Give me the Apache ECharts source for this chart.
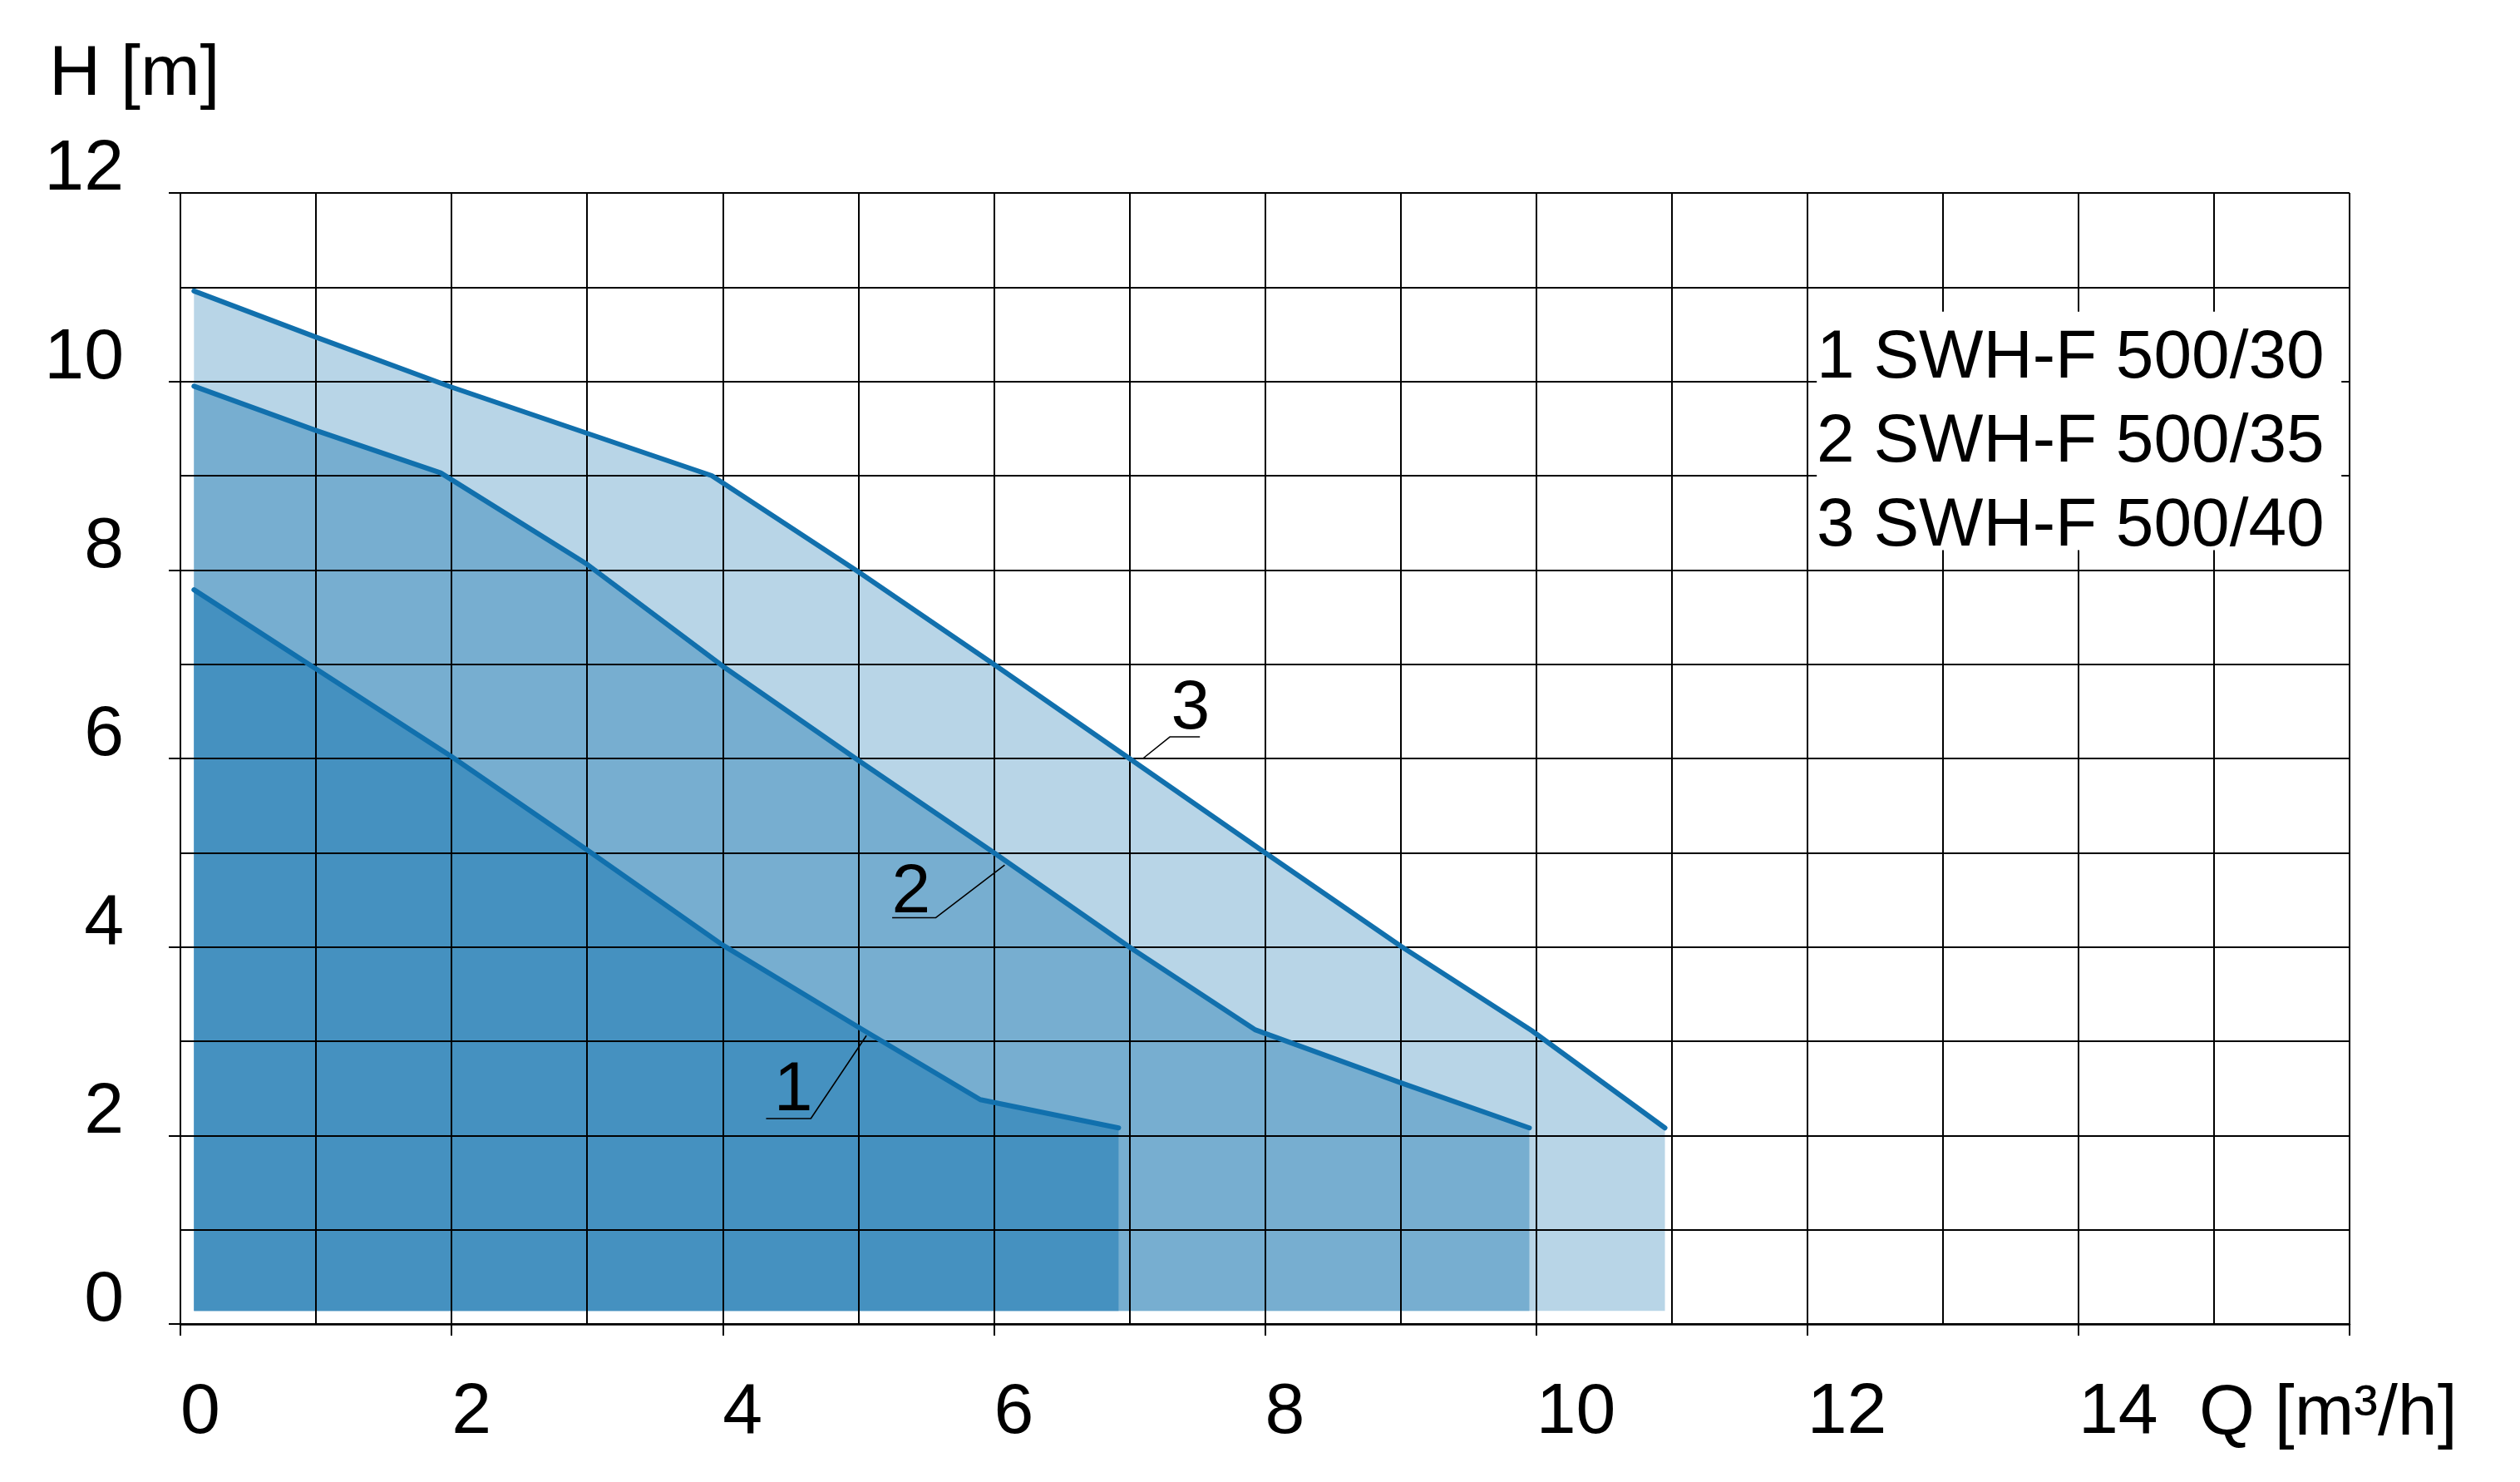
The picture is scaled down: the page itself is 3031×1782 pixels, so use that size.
<!DOCTYPE html>
<html>
<head>
<meta charset="utf-8">
<script src="https://cdn.jsdelivr.net/npm/echarts@6/dist/echarts.min.js"></script>
<style>
  html, body { margin: 0; padding: 0; background: #fff; }
  #chart { width: 3031px; height: 1782px; }
</style>
</head>
<body>
<div id="chart"></div>
<script>
// ---- data ----
const modelNames = ['1 SWH-F 500/30', '2 SWH-F 500/35', '3 SWH-F 500/40'];

const q1 = [0.1, 1, 2, 3, 4, 5, 5.9, 6.92];
const h1 = [7.79, 6.95, 6.02, 5.03, 4.02, 3.15, 2.38, 2.08];

const q2 = [0.1, 1, 1.92, 3, 4, 5, 6, 7, 7.93, 9, 9.95];
const h2 = [9.95, 9.48, 9.03, 8.06, 6.98, 5.98, 5.0, 4.0, 3.12, 2.56, 2.08];

const q3 = [0.1, 1, 2, 3, 3.92, 5, 6, 7, 8, 9, 9.97, 10.95];
const h3 = [10.96, 10.47, 9.94, 9.45, 9.0, 7.98, 7.0, 6.0, 5.0, 4.01, 3.11, 2.08];

const xTicks = [0, 2, 4, 6, 8, 10, 12, 14];
const yTicks = [0, 2, 4, 6, 8, 10, 12];

// curve number tags and their leader lines
const tagText = ['1', '2', '3'];
const tagQ = [4.52, 5.39, 7.45];
const tagH = [2.47, 4.57, 6.52];
const leader1 = [[4.32, 2.18], [4.65, 2.18], [5.06, 3.06]];
const leader2 = [[5.25, 4.31], [5.57, 4.31], [6.08, 4.87]];
const leader3 = [[7.52, 6.23], [7.30, 6.23], [7.10, 6.0]];

// area floor and legend panel extent (in data units)
const areaFloor = 0.14;
const legendPanel = [12.07, 15.94, 8.21, 10.74];

// ---- styling ----
const FONT = "'Liberation Sans', Arial, sans-serif";
const fills = ['#4591c0', '#77aed0', '#b8d5e7'];
const lineColor = '#1170ad';

const zip = (a, b) => a.map((v, i) => [v, b[i]]);
const curves = [zip(q1, h1), zip(q2, h2), zip(q3, h3)];

const chart = echarts.init(document.getElementById('chart'), null, { renderer: 'canvas' });

const gridLine = { show: true, lineStyle: { color: '#000', width: 2 } };

const series = [];
// filled areas (largest first so the smaller sit on top)
[2, 1, 0].forEach(i => {
  series.push({
    type: 'line', name: modelNames[i], data: curves[i],
    symbol: 'none', silent: true, z: 1,
    lineStyle: { width: 0 },
    areaStyle: { color: fills[i], opacity: 1, origin: areaFloor }
  });
});
// curve strokes, drawn above the grid
[0, 1, 2].forEach(i => {
  series.push({
    type: 'line', name: modelNames[i], data: curves[i],
    symbol: 'none', silent: true, z: 5,
    lineStyle: { color: lineColor, width: 6, cap: 'round', join: 'round' }
  });
});
// white panel behind the legend
series.push({
  type: 'custom', name: 'panel', silent: true, z: 6,
  data: [legendPanel],
  renderItem: (params, api) => {
    const p1 = api.coord([api.value(0), api.value(3)]);
    const p2 = api.coord([api.value(1), api.value(2)]);
    return { type: 'rect', shape: { x: p1[0], y: p1[1], width: p2[0] - p1[0], height: p2[1] - p1[1] }, style: { fill: '#fff' } };
  }
});
// leader lines
[leader1, leader2, leader3].forEach(d => {
  series.push({
    type: 'line', data: d, symbol: 'none', silent: true, z: 7,
    lineStyle: { color: '#000', width: 1.6 }
  });
});
// curve number tags
series.push({
  type: 'scatter', silent: true, z: 8,
  data: zip(tagQ, tagH),
  symbolSize: 1, itemStyle: { color: 'rgba(0,0,0,0)' },
  label: {
    show: true, position: 'inside',
    formatter: p => tagText[p.dataIndex],
    fontSize: 84, fontFamily: FONT, color: '#000', textBorderWidth: 0, opacity: 1
  }
});

chart.setOption({
  animation: false,
  backgroundColor: '#fff',
  grid: { left: 217, right: 205, top: 232, bottom: 190 },
  legend: {
    data: modelNames, orient: 'vertical', left: 2180, top: 381,
    icon: 'none', itemWidth: 0, itemHeight: 10, itemGap: 0, padding: 0,
    selectedMode: false, z: 10,
    textStyle: { fontSize: 82, fontFamily: FONT, color: '#000', lineHeight: 101 }
  },
  xAxis: {
    type: 'value', min: 0, max: 16, interval: 2, z: 3,
    axisLine: { show: true, onZero: false, lineStyle: { color: '#000', width: 2.5 } },
    axisTick: { show: true, length: 14, lineStyle: { color: '#000', width: 2 } },
    axisLabel: {
      formatter: v => (xTicks.indexOf(v) >= 0 ? String(v) : ''),
      align: 'left', margin: 64, fontSize: 86, fontFamily: FONT, color: '#000'
    },
    splitLine: gridLine,
    minorTick: { show: false, splitNumber: 2 },
    minorSplitLine: gridLine
  },
  yAxis: {
    type: 'value', min: 0, max: 12, interval: 2, z: 3,
    axisLine: { show: true, lineStyle: { color: '#000', width: 2 } },
    axisTick: { show: true, length: 14, lineStyle: { color: '#000', width: 2 } },
    axisLabel: {
      formatter: v => (yTicks.indexOf(v) >= 0 ? String(v) : ''),
      align: 'right', verticalAlign: 'bottom', lineHeight: 55,
      margin: 68, fontSize: 86, fontFamily: FONT, color: '#000'
    },
    splitLine: gridLine,
    minorTick: { show: false, splitNumber: 2 },
    minorSplitLine: gridLine
  },
  graphic: [
    { type: 'text', x: 59, y: 90, silent: true,
      style: { text: 'H [m]', fontSize: 86, fontFamily: FONT, fill: '#000', verticalAlign: 'middle' } },
    { type: 'text', x: 2645, y: 1701, silent: true,
      style: { text: 'Q [m³/h]', fontSize: 86, fontFamily: FONT, fill: '#000', verticalAlign: 'middle' } }
  ],
  series: series
});
</script>
</body>
</html>
